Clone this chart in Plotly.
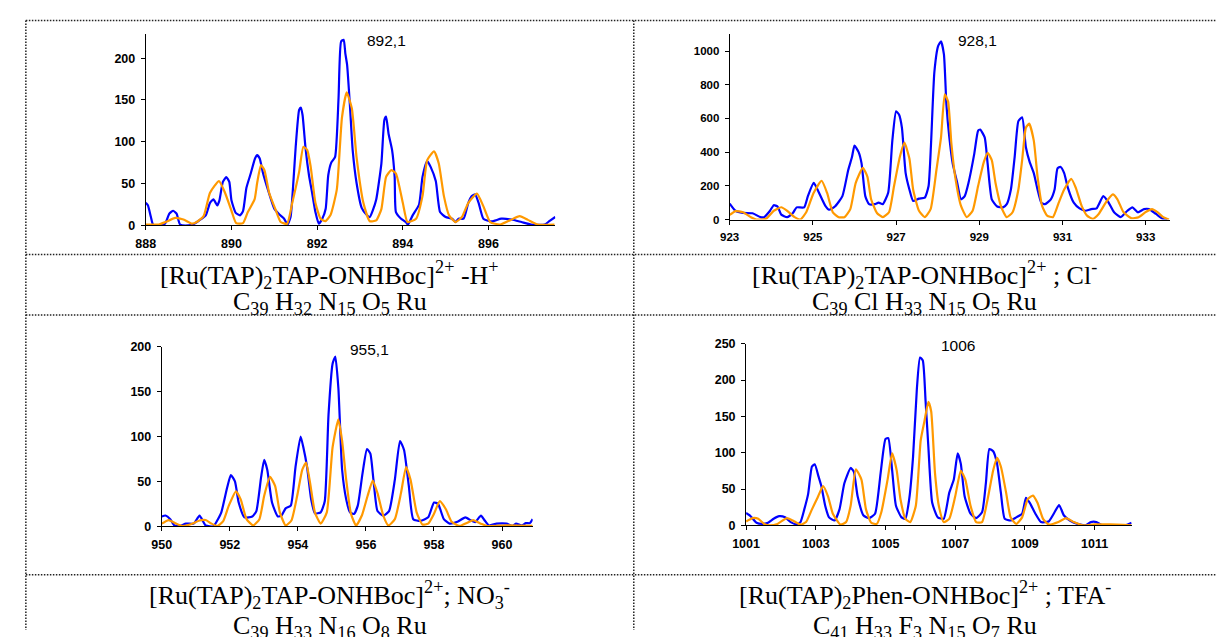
import plotly.graph_objects as go

W, H = 1216, 637

# ---------------- data ----------------
p1_blue_x = [888.00, 888.05, 888.12, 888.17, 888.30, 888.45, 888.55, 888.64, 888.72, 888.80, 889.00, 889.10, 889.25, 889.40,
             889.50, 889.58, 889.67, 889.72, 889.80, 889.88, 889.95, 890.00, 890.10, 890.20, 890.27, 890.35, 890.45, 890.55,
             890.60, 890.66, 890.73, 890.85, 891.00, 891.12, 891.23, 891.31, 891.38, 891.45, 891.50, 891.58, 891.62, 891.66,
             891.73, 891.81, 891.88, 891.96, 892.04, 892.12, 892.20, 892.26, 892.33, 892.42, 892.50, 892.56, 892.62, 892.66,
             892.70, 892.77, 892.83, 892.92, 893.04, 893.15, 893.23, 893.30, 893.38, 893.50, 893.57, 893.61, 893.67, 893.75,
             893.81, 893.84, 893.96, 894.07, 894.12, 894.23, 894.38, 894.46, 894.57, 894.65, 894.77, 894.87, 895.00, 895.15,
             895.23, 895.30, 895.42, 895.53, 895.61, 895.69, 895.77, 895.88, 896.07, 896.30, 896.54, 896.77, 897.00, 897.31,
             897.42, 897.56]
p1_blue_y = [27, 24, 10, 1, 0, 2, 14, 17.5, 14, 1, 0, 1, 6, 12,
             27, 31, 24, 30, 52, 57.7, 52, 30, 15, 12, 17, 45, 62, 80,
             84, 80, 64, 43, 20, 13, 8, 1, 10, 55, 94, 138, 141, 132,
             92, 60, 40, 16, 2, 8, 20, 60, 75, 82, 152, 220, 222, 205,
             192, 140, 90, 51, 21, 13, 10, 18, 31, 74, 126, 130, 109, 90,
             58, 16, 8, 4, 1, 12, 25, 58, 77, 70, 53, 16, 10, 8,
             4, 8, 8, 27, 35, 37, 27, 8, 4.7, 8, 7, 4, 1, 1,
             5, 10]
p1_orange_x = [888.00, 888.30, 888.46, 888.69, 888.88, 889.08, 889.19, 889.35, 889.50, 889.71, 889.85, 890.00, 890.11, 890.27,
               890.38, 890.54, 890.60, 890.69, 890.77, 890.88, 891.04, 891.15, 891.30, 891.42, 891.58, 891.68, 891.77, 891.85,
               891.96, 892.08, 892.19, 892.31, 892.46, 892.58, 892.69, 892.81, 892.92, 893.08, 893.23, 893.38, 893.50, 893.61,
               893.73, 893.84, 894.00, 894.11, 894.31, 894.46, 894.57, 894.73, 894.84, 894.96, 895.08, 895.23, 895.38, 895.53,
               895.73, 895.88, 896.04, 896.27, 896.50, 896.73, 896.92, 897.15, 897.54]
p1_orange_y = [1, 1, 4, 9, 7, 2, 4, 11, 39, 53, 39, 17.5, 2.7, 2.7,
               15.6, 31, 50.7, 72, 66, 39, 17.5, 4, 2, 27, 64, 94, 90, 70,
               27, 8, 5, 12, 43, 129, 159, 140, 82, 27, 5, 6, 19.5, 58,
               66, 62, 27, 4, 8, 35, 78, 88.5, 74, 35, 12, 4, 10, 27,
               38, 23, 4, 1, 6, 11, 6.6, 1, 1]

p2_blue_x = [923.00, 923.14, 923.32, 923.55, 923.74, 923.83, 923.97, 924.06, 924.15, 924.24, 924.38, 924.52, 924.61, 924.79,
             924.88, 925.02, 925.11, 925.30, 925.39, 925.53, 925.71, 925.85, 925.94, 926.00, 926.10, 926.17, 926.26, 926.35,
             926.49, 926.58, 926.68, 926.81, 926.91, 927.00, 927.07, 927.14, 927.23, 927.32, 927.41, 927.55, 927.69, 927.78,
             927.84, 927.92, 928.01, 928.08, 928.15, 928.21, 928.28, 928.36, 928.47, 928.56, 928.65, 928.74, 928.88, 928.97,
             929.02, 929.13, 929.20, 929.30, 929.43, 929.57, 929.66, 929.76, 929.85, 929.94, 930.03, 930.12, 930.21, 930.31,
             930.40, 930.49, 930.58, 930.72, 930.81, 930.88, 930.95, 931.04, 931.13, 931.27, 931.41, 931.55, 931.69, 931.82,
             931.98, 932.10, 932.24, 932.40, 932.56, 932.68, 932.81, 932.96, 933.08, 933.25, 933.41, 933.52]
p2_blue_y = [95, 52, 39, 37, 14, 14, 52, 85, 77, 29, 14, 39, 72, 72,
             139, 217, 178, 81, 58, 77, 139, 294, 371, 439, 400, 333, 139, 91,
             91, 100, 91, 159, 468, 642, 623, 545, 275, 178, 110, 124, 130, 197,
             449, 874, 1029, 1058, 980, 681, 487, 333, 217, 120, 139, 217, 391, 526,
             534, 487, 333, 120, 77, 72, 91, 178, 371, 584, 607, 429, 342, 275,
             178, 100, 91, 120, 178, 304, 313, 275, 188, 100, 66, 52, 62, 66,
             139, 104, 43, 14, 52, 72, 43, 62, 62, 33, 4, 0]
p2_orange_x = [923.00, 923.14, 923.32, 923.51, 923.64, 923.87, 924.06, 924.24, 924.38, 924.56, 924.70, 924.84, 925.02, 925.21,
               925.34, 925.48, 925.62, 925.76, 925.90, 926.03, 926.20, 926.31, 926.40, 926.54, 926.68, 926.83, 926.95, 927.09,
               927.20, 927.32, 927.41, 927.55, 927.69, 927.83, 927.97, 928.08, 928.17, 928.25, 928.33, 928.42, 928.56, 928.70,
               928.84, 928.97, 929.11, 929.20, 929.30, 929.39, 929.53, 929.66, 929.80, 929.94, 930.03, 930.12, 930.20, 930.31,
               930.40, 930.51, 930.63, 930.77, 930.91, 931.04, 931.21, 931.32, 931.46, 931.59, 931.73, 931.87, 932.05, 932.21,
               932.32, 932.46, 932.65, 932.83, 933.01, 933.15, 933.29, 933.42, 933.56]
p2_orange_y = [27, 50, 43, 14, 0, 4, 52, 73, 52, 14, 0, 43, 159, 230,
               159, 43, 14, 14, 62, 217, 307, 255, 120, 39, 14, 43, 197, 371,
               456, 362, 178, 52, 14, 62, 294, 487, 743, 700, 449, 255, 81, 14,
               52, 197, 342, 396, 352, 217, 72, 14, 43, 178, 352, 545, 569, 468,
               255, 81, 23, 14, 100, 178, 242, 188, 81, 23, 4, 33, 104, 149,
               120, 46, 8, 14, 46, 62, 43, 14, 0]

p3_blue_x = [950.00, 950.11, 950.25, 950.37, 950.54, 950.71, 950.94, 951.11, 951.29, 951.52, 951.63, 951.75, 951.92, 952.03,
             952.15, 952.26, 952.43, 952.66, 952.78, 952.92, 953.01, 953.10, 953.24, 953.41, 953.52, 953.64, 953.79, 953.93,
             954.08, 954.16, 954.27, 954.39, 954.50, 954.67, 954.79, 954.90, 955.02, 955.10, 955.19, 955.30, 955.42, 955.53,
             955.65, 955.76, 955.90, 956.03, 956.13, 956.22, 956.34, 956.51, 956.68, 956.85, 957.00, 957.12, 957.26, 957.39,
             957.60, 957.83, 958.00, 958.12, 958.29, 958.46, 958.69, 958.92, 959.09, 959.21, 959.38, 959.49, 959.61, 959.84,
             960.13, 960.30, 960.41, 960.59, 960.70, 960.82, 960.90]
p3_blue_y = [11, 12, 8, 1, 0.4, 3, 3, 12, 1, 0, 6.5, 15.6, 43, 57,
             50, 26.5, 10, 11, 17, 55, 74, 63, 26.5, 11, 12, 20, 23, 66,
             100, 88, 66, 30, 14.5, 15.6, 28, 124, 181, 189, 154, 63, 30, 15.6,
             13.8, 23, 59, 86, 81, 52, 17, 12, 17, 52, 95, 85, 45, 8,
             6, 10, 26.5, 25, 8, 3, 5, 10, 6.5, 4.7, 12, 6.5, 1, 3,
             3, 0.4, 3, 1, 3.6, 3.6, 8]
p3_orange_x = [950.00, 950.20, 950.42, 950.60, 950.83, 951.11, 951.29, 951.46, 951.63, 951.80, 951.97, 952.18, 952.32, 952.49,
               952.69, 952.87, 953.01, 953.18, 953.33, 953.47, 953.64, 953.81, 953.98, 954.13, 954.24, 954.36, 954.50, 954.67,
               954.85, 955.02, 955.19, 955.30, 955.42, 955.56, 955.71, 955.88, 956.05, 956.20, 956.34, 956.51, 956.66, 956.85,
               957.03, 957.18, 957.31, 957.49, 957.66, 957.83, 958.00, 958.17, 958.35, 958.52, 958.75, 958.98, 959.15, 959.38,
               959.55, 960.13, 960.90]
p3_orange_y = [3, 7, 3, 0.4, 2, 6.5, 7, 3, 0.4, 5.4, 23, 39, 30, 8,
               1, 8, 34, 55, 45, 15.6, 1, 6.5, 34, 63, 71, 48, 15.6, 3,
               15.6, 88, 119, 95, 52, 14, 1, 12, 34, 51, 37, 12, 1, 8,
               37, 66, 52, 15.6, 2, 3, 14, 28, 19, 5, 0.4, 4, 7, 3,
               0.4, 1, 0.4]

p4_blue_x = [1001.00, 1001.13, 1001.30, 1001.46, 1001.63, 1001.79, 1001.95, 1002.12, 1002.28, 1002.45, 1002.56, 1002.67,
             1002.78, 1002.89, 1002.97, 1003.08, 1003.16, 1003.27, 1003.38, 1003.54, 1003.68, 1003.82, 1004.00, 1004.09,
             1004.20, 1004.37, 1004.53, 1004.70, 1004.86, 1005.00, 1005.08, 1005.19, 1005.30, 1005.46, 1005.57, 1005.68,
             1005.79, 1005.90, 1005.99, 1006.07, 1006.15, 1006.23, 1006.34, 1006.50, 1006.67, 1006.83, 1006.96, 1007.07,
             1007.16, 1007.27, 1007.44, 1007.60, 1007.77, 1007.88, 1007.98, 1008.09, 1008.20, 1008.31, 1008.42, 1008.59,
             1008.75, 1008.92, 1009.03, 1009.14, 1009.30, 1009.46, 1009.68, 1009.85, 1009.98, 1010.12, 1010.29, 1010.51,
             1010.73, 1010.89, 1011.05, 1011.22, 1011.88, 1012.06]
p4_blue_y = [17, 12.6, 3.6, 2, 3.6, 9, 12.6, 11, 4.5, 1.3, 4.5, 22,
             43, 81, 84, 67, 54, 27, 11, 6.7, 22, 58, 79, 74,
             40, 13.5, 10, 16, 72, 119, 120, 76, 27, 11, 9, 36,
             94, 188, 231, 227, 171, 108, 31, 11, 9, 45, 63, 99,
             85, 40, 16, 10, 18, 58, 105, 102, 85, 45, 9, 6.7,
             11, 16, 38, 31, 16, 4.5, 5.4, 18, 28, 13.5, 6.7, 2,
             0, 4.5, 4.5, 0, 0, 3.6]
p4_orange_x = [1001.00, 1001.19, 1001.35, 1001.52, 1001.68, 1001.90, 1002.17, 1002.34, 1002.56, 1002.72, 1002.89, 1003.05,
               1003.21, 1003.35, 1003.49, 1003.71, 1003.87, 1004.00, 1004.15, 1004.31, 1004.44, 1004.59, 1004.75, 1004.88,
               1005.06, 1005.19, 1005.32, 1005.43, 1005.57, 1005.71, 1005.87, 1006.01, 1006.12, 1006.23, 1006.31, 1006.42,
               1006.53, 1006.67, 1006.83, 1007.00, 1007.16, 1007.29, 1007.44, 1007.60, 1007.77, 1007.93, 1008.09, 1008.20,
               1008.31, 1008.46, 1008.59, 1008.75, 1008.92, 1009.08, 1009.23, 1009.36, 1009.52, 1009.68, 1009.96, 1010.18,
               1010.40, 1010.67, 1011.00, 1011.44, 1012.06]
p4_orange_y = [5.4, 10, 9, 2, 0, 2, 10, 6.7, 1, 4.5, 22, 38,
               54, 40, 16, 1, 4.5, 27, 77, 63, 22, 3.6, 2, 18,
               63, 99, 76, 36, 9, 4.5, 27, 117, 144, 170, 157, 72,
               27, 4.5, 9, 40, 75, 63, 27, 4.5, 4.5, 36, 76, 93,
               81, 45, 11, 2, 11, 36, 41, 31, 9, 1, 4.5, 10,
               4.5, 0, 1.3, 1.3, 0]

peak_labels = ["892,1", "928,1", "955,1", "1006"]

caption_line1 = [
    "[Ru(TAP)<sub>2</sub>TAP-ONHBoc]<sup>2+</sup> -H<sup>+</sup>",
    "[Ru(TAP)<sub>2</sub>TAP-ONHBoc]<sup>2+</sup> ; Cl<sup>-</sup>",
    "[Ru(TAP)<sub>2</sub>TAP-ONHBoc]<sup>2+</sup>; NO<sub>3</sub><sup>-</sup>",
    "[Ru(TAP)<sub>2</sub>Phen-ONHBoc]<sup>2+</sup> ; TFA<sup>-</sup>",
]
caption_line2 = [
    "C<sub>39</sub> H<sub>32</sub> N<sub>15</sub> O<sub>5</sub> Ru",
    "C<sub>39</sub> Cl H<sub>33</sub> N<sub>15</sub> O<sub>5</sub> Ru",
    "C<sub>39</sub> H<sub>33</sub> N<sub>16</sub> O<sub>8</sub> Ru",
    "C<sub>41</sub> H<sub>33</sub> F<sub>3</sub> N<sub>15</sub> O<sub>7</sub> Ru",
]

x_ranges = [(888, 897.56), (923, 933.58), (950, 960.9), (1001, 1012.06)]
y_ranges = [(0, 229), (0, 1100), (0, 200), (0, 250)]
y_dticks = [50, 200, 50, 50]

# ---------------- layout geometry (pixels) ----------------
BLUE = "#0000FF"
ORANGE = "#FF9900"
# plot boxes: (left, right, bottom(y=0), top)
boxes = [(133.3, 547.6, 223.3, 27.5),
         (724.0, 1169.3, 217.3, 27.8),
         (149.5, 524.7, 531.0, 347.3),
         (740.6, 1130.6, 530.0, 344.3)]
tick_sizes = [12.5, 11.5, 12.5, 12.5]
peak_pos = [(377.0, 34.7), (975.2, 34.5), (359.4, 350.0), (955.5, 345.7)]
cell_cx = [319.5, 921.5, 319.5, 921.5]
# baselines of the two caption lines
cap_base1 = [280.0, 280.0, 607.7, 607.7]
cap_base2 = [307.0, 307.0, 638.5, 638.5]
CAP_SIZE = 26


def fx(px):
    return px / W


def fy(py):
    return 1 - py / H


series = [(p1_blue_x, p1_blue_y, p1_orange_x, p1_orange_y),
          (p2_blue_x, p2_blue_y, p2_orange_x, p2_orange_y),
          (p3_blue_x, p3_blue_y, p3_orange_x, p3_orange_y),
          (p4_blue_x, p4_blue_y, p4_orange_x, p4_orange_y)]

fig = go.Figure()
layout = {}
for i, (bx, by, ox, oy) in enumerate(series):
    n = "" if i == 0 else str(i + 1)
    tickfont = dict(family="Arial, Liberation Sans, sans-serif", size=tick_sizes[i], color="black", weight="bold")
    fig.add_trace(go.Scatter(x=bx, y=by, mode="lines",
                             line=dict(color=BLUE, width=2.2, shape="spline", smoothing=0.5),
                             xaxis="x" + n, yaxis="y" + n, showlegend=False, hoverinfo="skip"))
    fig.add_trace(go.Scatter(x=ox, y=oy, mode="lines",
                             line=dict(color=ORANGE, width=2.2, shape="spline", smoothing=0.5),
                             xaxis="x" + n, yaxis="y" + n, showlegend=False, hoverinfo="skip"))
    l, r, b, t = boxes[i]
    layout["xaxis" + n] = dict(domain=[fx(l), fx(r)], range=list(x_ranges[i]), anchor="y" + n,
                               showline=True, linecolor="black", linewidth=1, showgrid=False, zeroline=False,
                               ticks="outside", ticklen=4, tickcolor="black", tickwidth=1,
                               ticklabelstandoff=3,
                               tick0=x_ranges[i][0], dtick=2, tickfont=tickfont, fixedrange=True)
    layout["yaxis" + n] = dict(domain=[fy(b), fy(t)], range=list(y_ranges[i]), anchor="x" + n,
                               showline=True, linecolor="black", linewidth=1, showgrid=False, zeroline=False,
                               ticks="outside", ticklen=4, tickcolor="black", tickwidth=1,
                               ticklabelstandoff=3,
                               tick0=0, dtick=y_dticks[i], tickfont=tickfont, fixedrange=True)

annotations = []
capfont = dict(family="Times New Roman, Liberation Serif, serif", size=CAP_SIZE, color="black")
for i in range(4):
    px, py = peak_pos[i]
    annotations.append(dict(text=peak_labels[i], x=fx(px), y=fy(py), xref="paper", yref="paper",
                            showarrow=False, xanchor="center", yanchor="middle",
                            font=dict(family="Arial, Liberation Sans, sans-serif", size=15.5, color="black")))
    annotations.append(dict(text=caption_line1[i], x=fx(cell_cx[i]), y=fy(cap_base1[i]), xref="paper", yref="paper",
                            showarrow=False, xanchor="center", yanchor="bottom", yshift=-0.45 * CAP_SIZE,
                            font=capfont, borderpad=0, borderwidth=0))
    annotations.append(dict(text=caption_line2[i], x=fx(cell_cx[i]), y=fy(cap_base2[i]), xref="paper", yref="paper",
                            showarrow=False, xanchor="center", yanchor="bottom", yshift=-0.45 * CAP_SIZE,
                            font=capfont, borderpad=0, borderwidth=0))

# dotted table borders
border = dict(color="#222222", width=1.5, dash="1.5px,1.5px")
shapes = []
for yy in [13.7, 253, 315, 580.5]:
    shapes.append(dict(type="line", xref="paper", yref="paper", x0=fx(12), x1=1, y0=fy(yy), y1=fy(yy), line=border))
for xx in [12, 627]:
    shapes.append(dict(type="line", xref="paper", yref="paper", x0=fx(xx), x1=fx(xx), y0=fy(13.7), y1=0, line=border))

fig.update_layout(width=W, height=H, autosize=False, margin=dict(l=0, r=0, t=0, b=0),
                  paper_bgcolor="white", plot_bgcolor="white",
                  annotations=annotations, shapes=shapes, **layout)

fig.write_html("out.html", config={"displayModeBar": False},
               post_script="document.body.style.margin='0px';document.body.style.overflow='hidden';")
